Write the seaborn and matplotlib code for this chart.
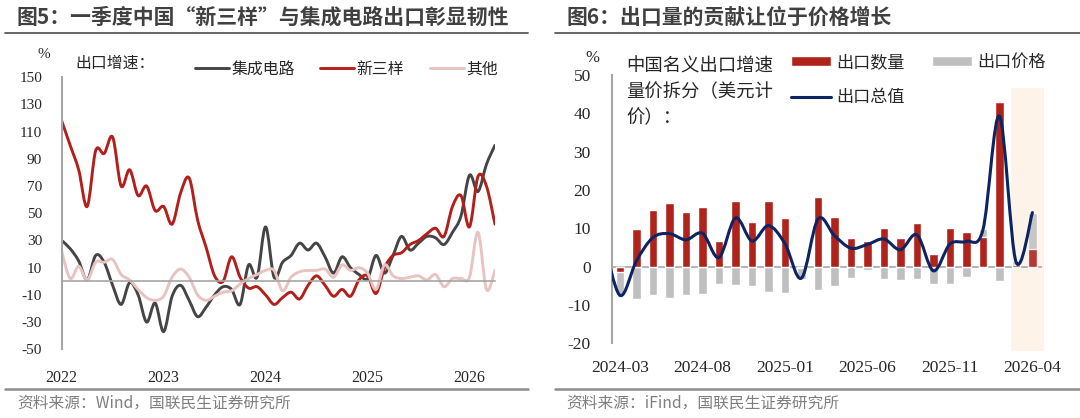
import numpy as np
import pandas as pd
import seaborn as sns
import matplotlib.pyplot as plt
from matplotlib.lines import Line2D
from matplotlib.patches import Rectangle, PathPatch
from matplotlib.path import Path
from matplotlib.ticker import FixedLocator

sns.set_theme(style="white")
plt.rcParams['font.family'] = ['Noto Sans CJK SC', 'DejaVu Sans']
plt.rcParams['axes.unicode_minus'] = False

# ---- 图5 数据：月度出口增速 2022-01 ~ 2026-04 (%) ----
months_left = pd.date_range('2022-01-01', '2026-04-01', freq='MS')
ic = [30, 24, 15, 1, 19, 14, -3, -17, -1, -10,
      -30, -16, -37, -11, -3, -14, -26, -19, -10, -4,
      -6, -17, 12, 3, 40, 3, 14, 19, 28, 23,
      28, 18, 6, 18, 10, 5, 2, 19, 6, 19,
      33, 23, 28, 33, 32, 27, 36, 48, 78, 66,
      86, 100]
new3 = [118, 100, 82, 55, 96, 94, 106, 70, 82, 63,
        70, 52, 55, 42, 65, 76, 45, 25, 4, 0,
        18, 3, -5, -4, -10, -17, -12, -8, -13, -3,
        4, -3, -11, -6, -11, 1, 4, -9, 10, 19,
        21, 27, 30, 35, 39, 33, 55, 63, 40, 77,
        70, 42]
other = [22, 2, 11, 1, 14, 14, 16, 5, 1, -6,
         -12, -14, -11, 3, 9, 3, -10, -14, -11, -8,
         -7, -2, 2, 5, 8, 8, -7, 3, 7, 8,
         8, 9, 3, 12, 8, 10, 6, -6, 12, 4,
         2, 3, 4, 1, 5, -4, 2, 2, 3, 36,
         -6, 8]
year_labels = ['2022', '2023', '2024', '2025', '2026']

# ---- 图6 数据：出口量价拆分 2024-03 ~ 2026-04 (%) ----
months_right = ['2024-03', '2024-04', '2024-05', '2024-06', '2024-07', '2024-08',
                '2024-09', '2024-10', '2024-11', '2024-12', '2025-01', '2025-02',
                '2025-03', '2025-04', '2025-05', '2025-06', '2025-07', '2025-08',
                '2025-09', '2025-10', '2025-11', '2025-12', '2026-01', '2026-02',
                '2026-03', '2026-04']
qty = [-1.3, 9.7, 14.7, 16.5, 14.2, 15.6, 6.8, 17.1, 11.6, 17.1, 12.6, -0.3,
       18.1, 12.9, 7.6, 6.6, 10.1, 7.5, 11.3, 3.2, 10.2, 9.1, 7.8, 43.0, 0.4, 4.5]
price = [-6.2, -8.5, -7.4, -8.2, -7.4, -7.1, -4.5, -4.7, -5.0, -6.5, -6.8, -2.8,
         -6.1, -5.0, -3.0, -1.0, -3.2, -3.4, -3.2, -4.4, -4.4, -2.7, 1.9, -3.7, 1.0, 9.4]
# 出口总值：首个点为 2024-02（落在坐标轴左侧，被裁切）
total_months = ['2024-02'] + months_right
total = [7.1, -7.5, 1.5, 7.6, 8.6, 7.0, 8.7, 2.4, 12.7, 6.7, 10.7, 6.0, -3.0,
         12.4, 8.1, 4.8, 5.8, 7.2, 4.4, 8.3, -1.1, 5.9, 6.6, 9.6, 39.3, 1.3, 14.1]
highlight = ['2026-03', '2026-04']

c_ic, c_new3, c_other = '#454545', '#B3201B', '#E8C3C1'
c_qty, c_price, c_total = '#B0221C', '#BFBFBF', '#0D2463'
axis_gray = '#A6A6A6'
serif = 'Liberation Serif'


def smooth_lines(ax):
    # Excel 风格的平滑折线：用 Catmull-Rom 贝塞尔曲线重画 seaborn 的线
    for line in ax.lines:
        x, y = line.get_data()
        pts = np.column_stack([np.asarray(x, float), np.asarray(y, float)])
        ext = np.vstack([pts[0], pts, pts[-1]])
        verts, codes = [pts[0]], [Path.MOVETO]
        for i in range(len(pts) - 1):
            p0, p1, p2, p3 = ext[i], ext[i + 1], ext[i + 2], ext[i + 3]
            verts += [p1 + (p2 - p0) / 6, p2 - (p3 - p1) / 6, p2]
            codes += [Path.CURVE4] * 3
        ax.add_patch(PathPatch(Path(verts, codes), fill=False, edgecolor=line.get_color(),
                               lw=line.get_linewidth(), capstyle='round',
                               joinstyle='round', zorder=line.get_zorder()))
        line.set_visible(False)


fig = plt.figure(figsize=(10.8, 4.18), dpi=100)

# ================= 左图 =================
axL = fig.add_axes([0.0571, 0.1644, 0.4012, 0.6507])
df_left = pd.DataFrame({'m': np.arange(len(months_left)), 'ic': ic,
                        'new3': new3, 'other': other})
sns.lineplot(data=df_left, x='m', y='ic', ax=axL, color=c_ic, lw=2.1, label='集成电路')
sns.lineplot(data=df_left, x='m', y='new3', ax=axL, color=c_new3, lw=2.1, label='新三样')
sns.lineplot(data=df_left, x='m', y='other', ax=axL, color=c_other, lw=2.1, label='其他')
axL.set_xlim(0, len(months_left) - 1)
axL.set_ylim(-50, 150)
axL.set_yticks(np.arange(-50, 151, 20))
axL.set_xticks([12 * i for i in range(len(year_labels))])
axL.set_xticklabels(year_labels)
axL.set_xlabel('')
axL.set_ylabel('')
for s in ['top', 'right']:
    axL.spines[s].set_visible(False)
axL.spines['bottom'].set_position(('data', 0))
axL.spines['bottom'].set_color(axis_gray)
axL.spines['left'].set_color(axis_gray)
axL.spines['bottom'].set_linewidth(1.2)
axL.spines['left'].set_linewidth(1.5)
axL.tick_params(axis='x', direction='in', length=4, color=axis_gray, pad=64, labelsize=11.5)
axL.tick_params(axis='y', direction='out', length=2, color=axis_gray, pad=12, labelsize=11)
for lab in axL.get_xticklabels() + axL.get_yticklabels():
    lab.set_fontfamily(serif)
axL.legend(loc='center left', bbox_to_anchor=(195 / 1080, 1 - 69.5 / 418),
           bbox_transform=fig.transFigure, ncol=3, frameon=False, fontsize=11.4,
           handlelength=2.15, handletextpad=0.15, columnspacing=1.6,
           borderpad=0, borderaxespad=0)
smooth_lines(axL)
fig.text(44 / 1080, 1 - 55 / 418, '%', fontsize=11, family=serif, ha='center', va='center')
fig.text(75 / 1080, 1 - 63.5 / 418, '出口增速：', fontsize=11.4, ha='left', va='center')

# ================= 右图 =================
axR = fig.add_axes([0.5664, 0.1787, 0.3972, 0.6419])
q = np.array(qty)
p = np.array(price)
same_sign = np.sign(q) == np.sign(p)
df_right = pd.DataFrame({'month': months_right, 'qty': q,
                         'price_stack': p + np.where(same_sign, q, 0)})
x0 = months_right.index(highlight[0])
x1 = months_right.index(highlight[-1])
axR.add_patch(Rectangle((x0 - 0.3, -22), (x1 - x0) + 1.0, 68.5, facecolor='#FDF3E8',
                        edgecolor='none', zorder=0, clip_on=False))
sns.barplot(data=df_right, x='month', y='price_stack', ax=axR, color=c_price,
            width=0.5, saturation=1, label='出口价格', zorder=2)
sns.barplot(data=df_right, x='month', y='qty', ax=axR, color=c_qty,
            width=0.5, saturation=1, label='出口数量', zorder=3)
for bar in axR.patches:
    if isinstance(bar, Rectangle) and bar.get_zorder() > 1:
        cx = bar.get_x() + bar.get_width() / 2
        if cx > x0 - 0.5:
            bar.set_alpha(0.85)
tx = np.arange(-1, len(months_right))
sns.lineplot(x=tx, y=total, ax=axR, color=c_total, lw=2.2, label='出口总值', zorder=4)
axR.set_xlim(-0.5, len(months_right) - 0.5)
axR.set_ylim(-20, 50)
axR.set_yticks(np.arange(-20, 51, 10))
axR.set_xticks(range(0, len(months_right), 5))
axR.set_xticklabels(months_right[::5])
axR.xaxis.set_minor_locator(FixedLocator(np.arange(4.5, len(months_right), 5)))
axR.set_xlabel('')
axR.set_ylabel('')
for s in ['top', 'right']:
    axR.spines[s].set_visible(False)
axR.spines['bottom'].set_position(('data', 0))
axR.spines['bottom'].set_color(axis_gray)
axR.spines['left'].set_color(axis_gray)
axR.spines['bottom'].set_linewidth(1.2)
axR.spines['left'].set_linewidth(1.5)
axR.spines['bottom'].set_zorder(1)
axR.tick_params(axis='x', which='major', length=0, pad=67, labelsize=12.5)
axR.tick_params(axis='x', which='minor', direction='out', length=3, color=axis_gray)
axR.tick_params(axis='y', direction='out', length=3, color=axis_gray, pad=12, labelsize=12.5)
for lab in axR.get_xticklabels() + axR.get_yticklabels():
    lab.set_fontfamily(serif)
h, l = axR.get_legend_handles_labels()
order = [l.index('出口数量'), l.index('出口总值'), l.index('出口价格')]
axR.legend([h[i] for i in order], [l[i] for i in order], loc='upper left',
           bbox_to_anchor=(791 / 1080, 1 - 53 / 418), bbox_transform=fig.transFigure,
           ncol=2, frameon=False, fontsize=12.3, handlelength=2.35, handleheight=0.5,
           handletextpad=0.3, columnspacing=1.6, labelspacing=1.0,
           borderpad=0, borderaxespad=0)
smooth_lines(axR)
fig.text(592 / 1080, 1 - 58 / 418, '%', fontsize=12, family=serif, ha='center', va='center')
fig.text(626 / 1080, 1 - 58 / 418, '中国名义出口增速\n量价拆分（美元计\n价）：',
         fontsize=13.2, ha='left', va='top', linespacing=1.55)

# ================= 标题、分隔线、来源 =================
title_c = '#404040'
fig.text(17 / 1080, 1 - 17 / 418, '图5：一季度中国“新三样”与集成电路出口彰显韧性',
         fontsize=15, weight='bold', color=title_c, ha='left', va='center')
fig.text(566 / 1080, 1 - 17 / 418, '图6：出口量的贡献让位于价格增长',
         fontsize=15, weight='bold', color=title_c, ha='left', va='center')
for xa, xb in [(5, 528), (555, 1080)]:
    fig.add_artist(Line2D([xa / 1080, xb / 1080], [1 - 33 / 418] * 2,
                          color='#5A5A5A', lw=1.3))
    fig.add_artist(Line2D([xa / 1080, xb / 1080], [1 - 389 / 418] * 2,
                          color='#8C8C8C', lw=1.8))
fig.text(17 / 1080, 1 - 403 / 418, '资料来源：Wind，国联民生证券研究所',
         fontsize=11.3, color='#7F7F7F', ha='left', va='center')
fig.text(566 / 1080, 1 - 403 / 418, '资料来源：iFind，国联民生证券研究所',
         fontsize=11.3, color='#7F7F7F', ha='left', va='center')

fig.savefig('out.png', dpi=100)
